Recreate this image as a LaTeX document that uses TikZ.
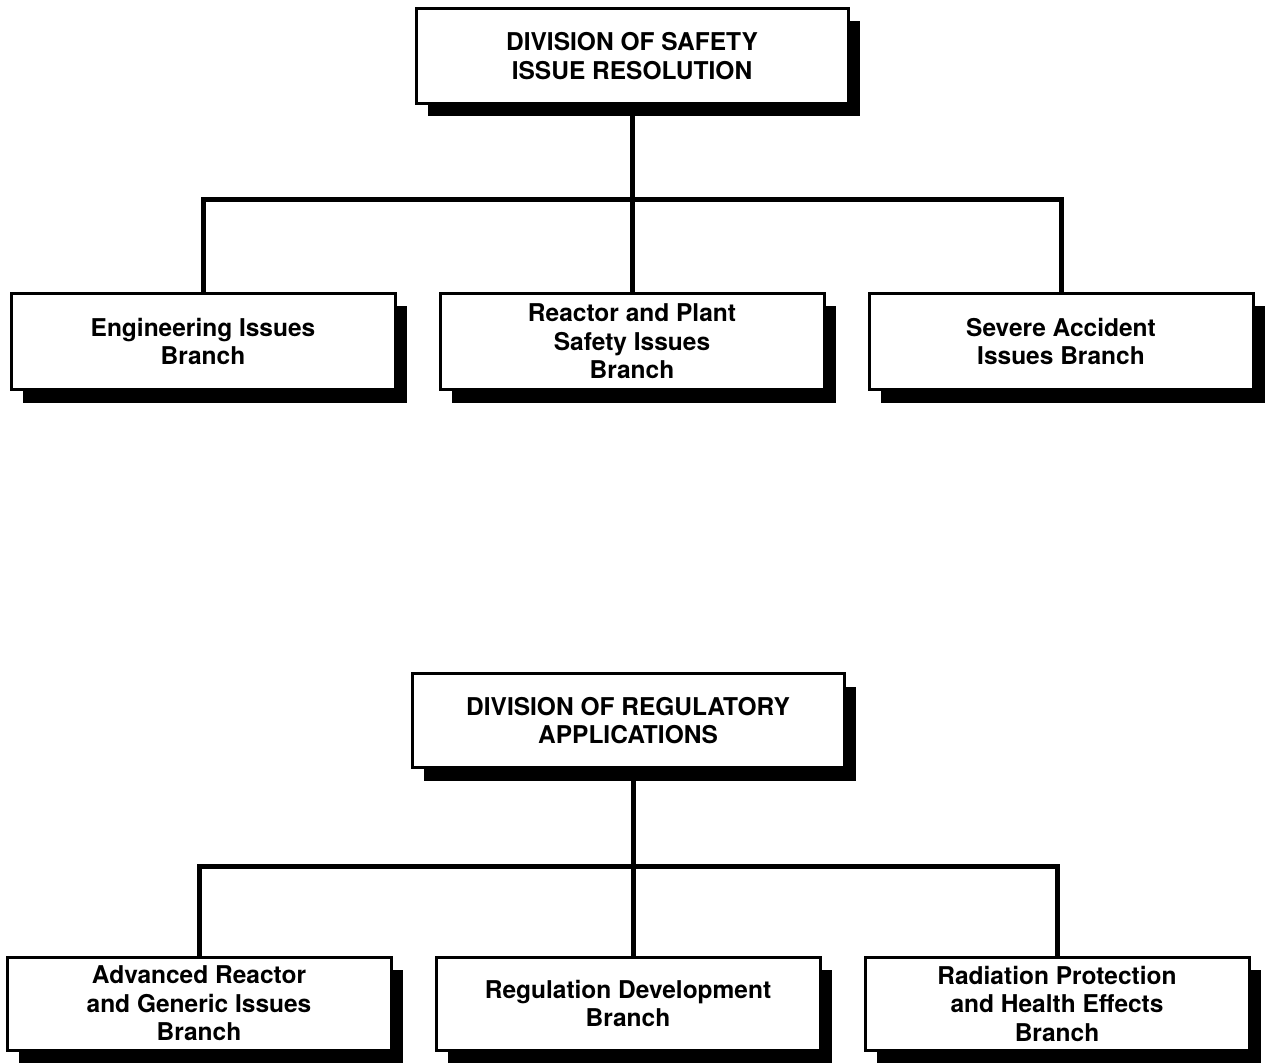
\documentclass[tikz,border=0pt]{standalone}
\usepackage{fontspec}
\setmainfont{TeX Gyre Heros}
\usetikzlibrary{shadows}

\newcommand{\orgfont}{\bfseries\fontsize{24.5}{28.5}\selectfont}

\begin{document}
\begin{tikzpicture}[x=1pt,y=-1pt,node distance=429pt,
	org box/.style={draw,line width=3pt,fill=white,align=center,inner sep=0pt,font=\orgfont,
		drop shadow={shadow xshift=12pt,shadow yshift=-13pt,fill=black,opacity=1}},
	div node/.style={org box,minimum width=432pt,minimum height=95pt},
	branch node/.style={org box,minimum width=384pt,minimum height=96pt},
	conn/.style={line width=5pt,line join=miter}]
	\useasboundingbox (0,0) rectangle (1268,1064);
	
	% first division
	\node[div node] (dsir) at (632,56) {DIVISION OF SAFETY\\ISSUE RESOLUTION};
	\node[branch node] (rpsib) [below of=dsir,node distance=285.5pt] {Reactor and Plant\\Safety Issues\\Branch};
	\node[branch node] (eib) [left of=rpsib] {Engineering Issues\\Branch};
	\node[branch node] (saib) [right of=rpsib] {Severe Accident\\Issues Branch};
	\coordinate (bus1) at (632,200);
	
	\draw[conn] (dsir.south) -- (rpsib.north);
	\draw[conn] (eib.north) |- (bus1) -| (saib.north);
	
	% second division
	\node[div node,minimum height=94pt] (dra) at (628,720.5) {DIVISION OF REGULATORY\\APPLICATIONS};
	\node[branch node,minimum height=93pt] (rdb) [below of=dra,node distance=283pt] {Regulation Development\\Branch};
	\node[branch node,minimum height=93pt] (argib) [left of=rdb] {Advanced Reactor\\and Generic Issues\\Branch};
	\node[branch node,minimum height=93pt] (rpheb) [right of=rdb] {Radiation Protection\\and Health Effects\\Branch};
	\coordinate (bus2) at (633,866);
	
	\draw[conn] (bus2 |- dra.south) -- (bus2 |- rdb.north);
	\draw[conn] (argib.north) |- (bus2) -| (rpheb.north);
\end{tikzpicture}
\end{document}
